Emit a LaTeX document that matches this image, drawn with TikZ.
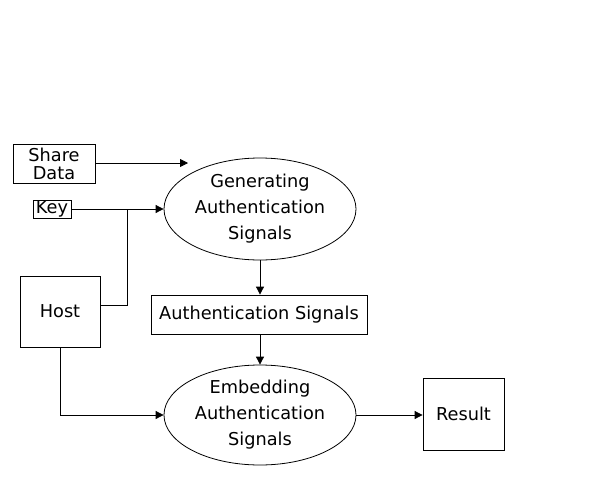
\documentclass[tikz,border=0pt]{standalone}
\usepackage{fontspec}
\setmainfont{DejaVu Sans}
\usetikzlibrary{shapes.geometric,arrows.meta}
\begin{document}
\begin{tikzpicture}[x=0.75pt,y=-0.75pt,
  box/.style={draw,semithick,inner sep=0pt,align=center,font=\fontsize{13.3}{13.5}\selectfont},
  ell/.style={draw,semithick,ellipse,inner sep=0pt,align=center,font=\fontsize{13.3}{19.5}\selectfont},
  arr/.style={semithick,-{Triangle[length=6pt,width=6pt]}}]
\useasboundingbox (0,0) rectangle (601,479);
\node[box,minimum width=82*0.75pt,minimum height=39*0.75pt] (share) at (54,163.5) {Share\\Data};
\node[box,minimum width=38*0.75pt,minimum height=18*0.75pt] (key) at (52,209) {Key};
\node[ell,minimum width=192*0.75pt,minimum height=102*0.75pt] (gen) at (260,209) {Generating\\Authentication\\Signals};
\node[box,minimum width=80*0.75pt,minimum height=71*0.75pt] (host) at (60,311.5) {Host};
\node[box,minimum width=216*0.75pt,minimum height=39*0.75pt] (as) at (259,314.5) {Authentication Signals};
\node[ell,minimum width=192*0.75pt,minimum height=100*0.75pt] (emb) at (260,415) {Embedding\\Authentication\\Signals};
\node[box,minimum width=81*0.75pt,minimum height=72*0.75pt] (res) at (463.5,414) {Result};
\coordinate (j) at (127,209);
\draw[arr] (share.east |- 0,163) -- (188,163);
\draw[arr] (key.east) -- (gen.west);
\draw[semithick] (host.east |- 0,305) -| (j);
\draw[arr] (gen.south) -- (as.north -| gen.south);
\draw[arr] (as.south -| emb.north) -- (emb.north);
\draw[arr] (host.south) |- (emb.west);
\draw[arr] (emb.east) -- (res.west |- emb.east);
\end{tikzpicture}
\end{document}
